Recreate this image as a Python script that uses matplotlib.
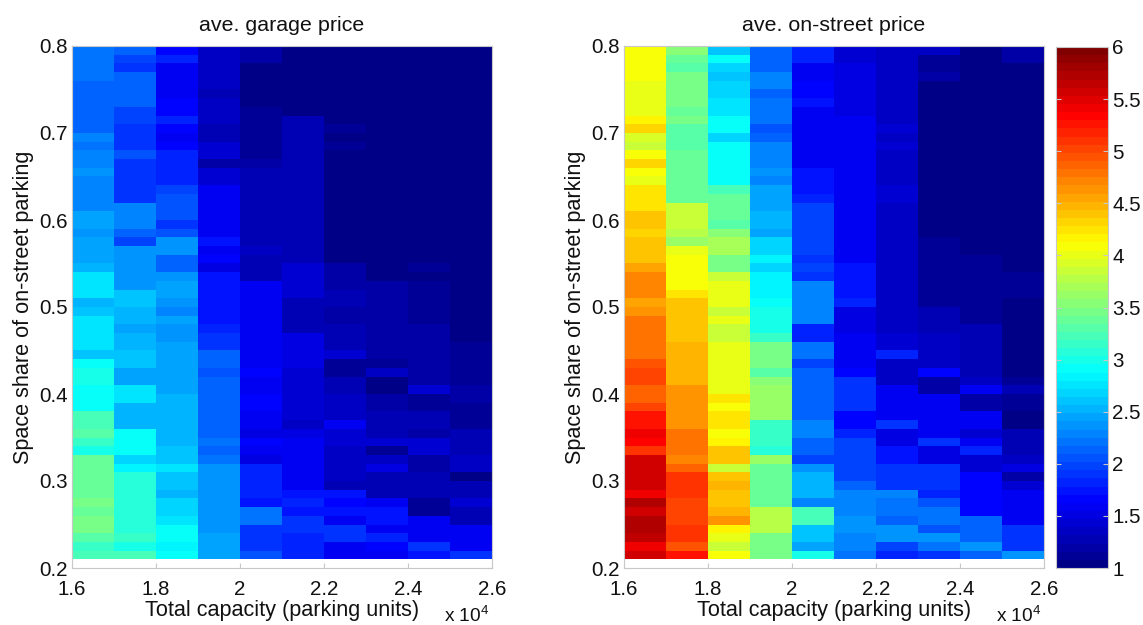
import matplotlib.pyplot as plt
import numpy as np
from matplotlib.colors import LinearSegmentedColormap

plt.rcParams['font.family'] = ['Liberation Sans', 'DejaVu Sans']
plt.rcParams['mathtext.default'] = 'regular'

# Cell edges of the two maps (rows run from 0.80 down to 0.21)
capacity = np.arange(16000, 27000, 1000)
share = np.arange(80, 20, -1) / 100

# ave. garage price, one list per capacity column, top row first
g1 = [2.19]*4 + [2.12]*6 + [2.31, 2.19, 2.25, 2.25, 2.35, 2.25] + [2.31]*3 + [2.47]*2 + [2.38] + [2.47]*3 + [2.52] + [2.75]*3 + [2.52, 2.62] + [2.78]*4 + [2.62, 2.9, 3.02, 3.02, 2.9, 2.9, 2.9, 3.25, 3.25, 3.3, 3.18, 3.0] + [3.37]*5 + [3.44, 3.37, 3.46, 3.46, 3.3, 3.15, 3.25]
g2 = [2.12, 1.96, 1.88] + [2.12]*4 + [2.0]*2 + [1.88]*3 + [2.03] + [1.9]*5 + [2.25]*3 + [2.12, 2.0] + [2.4]*5 + [2.6]*2 + [2.55]*2 + [2.47, 2.55, 2.55, 2.62, 2.62, 2.47, 2.47, 2.78, 2.78, 2.55, 2.55, 2.55, 2.9, 2.9, 2.9, 2.68, 2.85] + [3.08]*7 + [3.15, 2.98, 3.25]
g3 = [1.63, 1.84] + [1.62]*4 + [1.7, 1.7, 1.84, 1.7, 1.62, 1.68] + [1.84]*4 + [1.96, 2.03, 2.03, 2.03, 1.88, 2.06, 2.35, 2.35, 2.12, 2.12, 2.38, 2.45, 2.45, 2.38, 2.31, 2.44, 2.35, 2.35] + [2.44]*6 + [2.52]*6 + [2.62, 2.62, 2.75, 2.62, 2.62, 2.52, 2.65, 2.65, 2.75, 2.9, 2.9, 2.82, 2.9]
g4 = [1.35]*5 + [1.27, 1.33, 1.33, 1.33, 1.27, 1.27, 1.42, 1.42, 1.18, 1.42, 1.42] + [1.62]*4 + [1.6, 1.6, 1.75, 1.55, 1.7, 1.5] + [1.77]*6 + [1.84, 1.9, 1.9, 2.15, 2.15, 2.03, 2.1, 2.15, 2.15, 2.1, 2.1, 2.1, 2.1, 2.19, 2.1, 2.19] + [2.38]*8 + [2.47]*3
g5 = [1.18]*2 + [1.06]*5 + [1.1]*6 + [1.22] + [1.27]*9 + [1.33] + [1.27]*3 + [1.62]*10 + [1.68, 1.55, 1.55, 1.7, 1.7, 1.58, 1.58, 1.47, 1.65, 1.58, 1.5] + [1.84]*4 + [1.72, 2.2, 2.2, 1.9, 1.9, 1.9, 2.06]
g6 = [1.06]*8 + [1.25]*17 + [1.4]*4 + [1.3]*3 + [1.25] + [1.47]*4 + [1.42]*6 + [1.35, 1.52, 1.6] + [1.55]*5 + [1.77, 1.8, 1.75, 1.93, 1.88, 1.8, 1.8, 1.8]
g7 = [1.05]*9 + [1.1, 1.0, 1.1] + [1.05]*13 + [1.17]*3 + [1.3]*2 + [1.22]*2 + [1.3]*3 + [1.42, 1.12, 1.12, 1.27, 1.27, 1.35, 1.35, 1.35, 1.6, 1.4, 1.4] + [1.35]*4 + [1.3, 1.77, 1.68, 1.77, 1.6, 1.93, 1.93, 1.62, 1.62]
g8 = [1.0]*27 + [1.17]*3 + [1.2]*2 + [1.17]*4 + [1.14, 1.35, 1.05, 1.05, 1.22, 1.22, 1.3, 1.3, 1.3, 1.4, 1.12, 1.35, 1.5, 1.3, 1.3, 1.3, 1.6, 1.77, 1.77, 1.55, 1.85, 1.68, 1.6]
g9 = [1.0]*25 + [1.08, 1.02] + [1.1]*5 + [1.17]*7 + [1.4, 1.08, 1.08, 1.3, 1.3, 1.2, 1.4, 1.4, 1.17, 1.17, 1.3, 1.3, 1.3, 1.13, 1.13, 1.6, 1.6, 1.6, 1.9, 1.75]
g10 = [1.0]*34 + [1.1]*5 + [1.2]*2 + [1.1]*3 + [1.27]*3 + [1.32, 1.32, 1.05, 1.3, 1.3, 1.4, 1.27, 1.27, 1.62, 1.62, 1.55, 1.88]

# ave. on-street price
s1 = [4.12]*4 + [4.03]*4 + [4.18, 4.3, 3.94, 3.82, 4.12, 4.33, 4.12, 4.03] + [4.25]*3 + [4.4]*2 + [4.3] + [4.4]*3 + [4.52] + [4.68]*3 + [4.57, 4.65] + [4.8]*5 + [4.93, 5.05, 5.05, 4.9, 4.9, 5.0, 5.27, 5.27, 5.4, 5.3, 5.1] + [5.54]*4 + [5.44, 5.72, 5.56, 5.72, 5.72, 5.62, 5.44, 5.54]
s2 = [3.57, 3.4, 3.27] + [3.47]*4 + [3.4, 3.47] + [3.27]*3 + [3.4] + [3.35]*3 + [3.4, 3.35] + [3.82]*3 + [3.75, 3.6, 4.03] + [4.12]*4 + [4.25] + [4.38]*5 + [4.47]*5 + [4.6]*5 + [4.75]*3 + [4.72, 4.9] + [5.1]*3 + [5.0, 5.05, 5.05, 5.12, 5.12, 4.93, 5.25]
s3 = [2.62, 2.9, 2.68, 2.6, 2.68, 2.68, 2.78, 2.78, 2.9, 2.9, 2.68] + [2.93]*5 + [3.25] + [3.4]*3 + [3.3, 3.5, 3.72, 3.72, 3.47, 3.47, 3.88] + [4.0]*3 + [3.82, 3.98, 3.88, 3.88] + [4.03]*6 + [4.25, 4.12, 4.22, 4.22, 4.12, 4.2, 4.38, 4.38, 3.82, 4.43, 4.48, 4.38, 4.38, 4.47, 4.6, 4.2, 4.03, 3.88, 4.12]
s4 = [2.15]*3 + [2.25, 2.3, 2.12] + [2.22]*3 + [2.06, 2.16] + [2.27]*3 + [2.38, 2.3] + [2.44]*3 + [2.55]*2 + [2.47, 2.68, 2.68, 2.82, 2.65] + [2.82]*3 + [2.9] + [3.0]*3 + [3.15] + [3.44]*3 + [3.3, 3.5] + [3.6]*4 + [3.18]*3 + [3.1, 3.65] + [3.4]*5 + [3.75]*3 + [3.47]*3
s5 = [1.8]*2 + [1.62]*2 + [1.65]*2 + [1.75, 1.6] + [1.58]*6 + [1.75]*3 + [1.8] + [1.96]*6 + [1.9, 1.97, 1.88] + [2.3]*5 + [1.8]*2 + [2.19]*2 + [1.96] + [2.12]*6 + [2.25]*2 + [2.15]*2 + [2.0, 2.4] + [2.52]*3 + [2.3, 3.22, 3.22, 2.62, 2.62, 2.47, 3.02]
s6 = [1.45]*2 + [1.5]*6 + [1.58]*4 + [1.6]*8 + [1.55]*3 + [1.62]*2 + [1.72]*3 + [1.77, 1.8] + [1.5]*3 + [1.6]*4 + [1.68] + [1.93]*4 + [1.65]*2 + [1.85] + [1.97]*5 + [2.12, 2.25, 2.25, 2.3, 2.4, 2.35, 2.25, 2.25, 2.19]
s7 = [1.35]*9 + [1.42, 1.35, 1.4] + [1.33]*4 + [1.42]*2 + [1.35]*15 + [1.42]*2 + [1.85] + [1.38]*3 + [1.6]*4 + [1.93, 1.5, 1.5, 1.77, 1.77] + [1.88]*3 + [2.3, 2.19, 2.22, 2.1, 2.4, 2.4, 2.0, 1.85]
s8 = [1.35, 1.1, 1.1, 1.18] + [1.05]*18 + [1.12]*8 + [1.3]*3 + [1.33]*4 + [1.68, 1.22, 1.22, 1.58, 1.58, 1.58, 1.6, 1.6, 1.88, 1.52, 1.52] + [1.9]*3 + [1.85, 2.03, 2.22, 2.22, 2.03, 2.38, 2.22, 1.9]
s9 = [1.02]*24 + [1.08]*5 + [1.12]*3 + [1.25]*6 + [1.38, 1.6, 1.22, 1.22, 1.55, 1.55, 1.4, 1.62, 1.8, 1.4, 1.4] + [1.66]*5 + [2.12]*3 + [2.4, 2.15]
s10 = [1.2]*2 + [1.0]*22 + [1.03, 1.0] + [1.08]*3 + [1.05]*4 + [1.02]*5 + [1.12, 1.3, 1.15, 1.15, 1.05, 1.05] + [1.3]*3 + [1.35, 1.52, 1.2, 1.45] + [1.6]*4 + [1.9, 1.9, 1.93, 2.38]

garage = np.array([g1, g2, g3, g4, g5, g6, g7, g8, g9, g10]).T
onstreet = np.array([s1, s2, s3, s4, s5, s6, s7, s8, s9, s10]).T

titles = ['ave. garage price', 'ave. on-street price']
xticks = [16000, 18000, 20000, 22000, 24000, 26000]
xtick_labels = ['1.6', '1.8', '2', '2.2', '2.4', '2.6']
yticks = [0.2, 0.3, 0.4, 0.5, 0.6, 0.7, 0.8]
ytick_labels = ['0.2', '0.3', '0.4', '0.5', '0.6', '0.7', '0.8']
cbar_ticks = [1, 1.5, 2, 2.5, 3, 3.5, 4, 4.5, 5, 5.5, 6]
cbar_labels = ['1', '1.5', '2', '2.5', '3', '3.5', '4', '4.5', '5', '5.5', '6']

# MATLAB style jet with 64 levels
jet = LinearSegmentedColormap.from_list('jet64', [
    (0, (0, 0, 0.53)), (0.125, (0, 0, 1)), (0.375, (0, 1, 1)),
    (0.625, (1, 1, 0)), (0.875, (1, 0, 0)), (1, (0.5, 0, 0))], N=64)

fs = 15.6
ink = '#111111'
grey = '#c8c8c8'
W, H = 1143, 625
fig = plt.figure(figsize=(W/100, H/100), dpi=100)

for left, data, title in zip([72, 624], [garage, onstreet], titles):
    ax = fig.add_axes([left/W, (H-568)/H, 420/W, 522/H])
    mesh = ax.pcolormesh(capacity, share, data, cmap=jet, vmin=1, vmax=6)
    ax.set_xlim(16000, 26000)
    ax.set_ylim(0.2, 0.8)
    ax.set_xticks(xticks)
    ax.set_xticklabels(xtick_labels)
    ax.set_yticks(yticks)
    ax.set_yticklabels(ytick_labels)
    ax.set_axisbelow(True)
    ax.tick_params(axis='x', pad=8.5)
    ax.tick_params(axis='y', pad=3)
    ax.tick_params(direction='in', length=3.5, width=0.8, color=grey, labelsize=14.8,
                   labelcolor=ink, top=True, right=True)
    for sp in ax.spines.values():
        sp.set_color(grey)
        sp.set_linewidth(0.8)
    ax.set_title(title, fontsize=15.4, color=ink, pad=11)
    ax.set_xlabel('Total capacity (parking units)', fontsize=fs, color=ink, labelpad=1)
    ax.set_ylabel('Space share of on-street parking', fontsize=fs, color=ink)
    ax.yaxis.set_label_coords(-37.5/420, 0.5)
    fig.text((left + 372)/W, (H-616)/H, 'x 10$^{4}$', fontsize=13.8, color=ink, va='center')

cax = fig.add_axes([1056/W, (H-568)/H, 52/W, 521/H])
cb = fig.colorbar(mesh, cax=cax)
cb.set_ticks(cbar_ticks)
cb.set_ticklabels(cbar_labels)
cax.tick_params(direction='in', length=3.5, width=0.8, color=grey, labelsize=14.8,
                labelcolor=ink, pad=3, left=True, right=True)
cb.outline.set_edgecolor(grey)
cb.outline.set_linewidth(0.8)

fig.savefig('out.png', dpi=100)
